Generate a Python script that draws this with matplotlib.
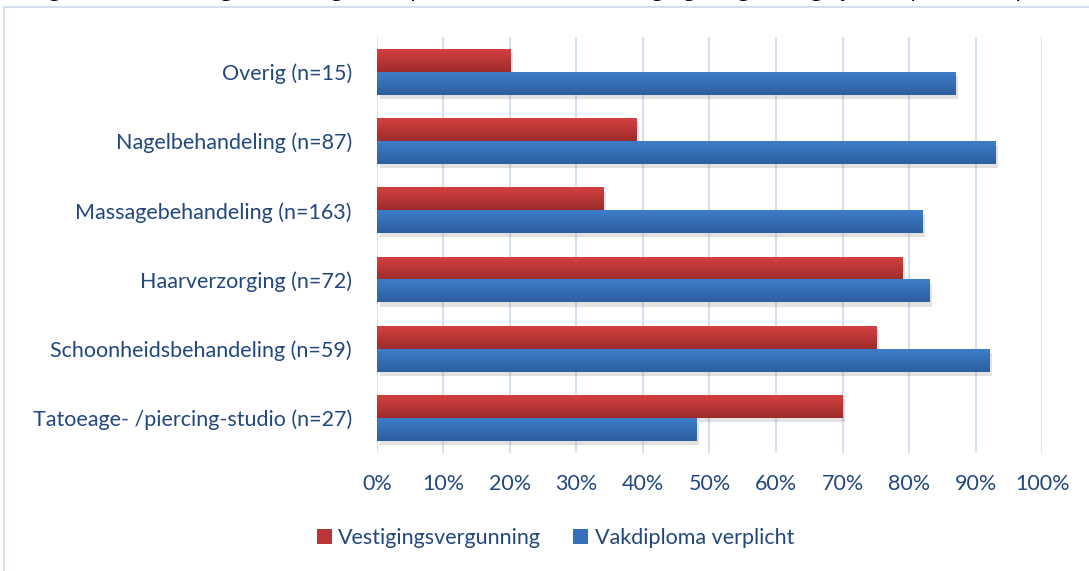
import matplotlib.pyplot as plt
import matplotlib.patheffects as pe
import numpy as np
from matplotlib.colors import LinearSegmentedColormap
from matplotlib.patches import Rectangle, Patch

# Data (top to bottom as shown)
categories = ['Overig (n=15)', 'Nagelbehandeling (n=87)', 'Massagebehandeling (n=163)',
              'Haarverzorging (n=72)', 'Schoonheidsbehandeling (n=59)',
              'Tatoeage- /piercing-studio (n=27)']
vestigingsvergunning = [0.20, 0.39, 0.34, 0.79, 0.75, 0.70]
vakdiploma = [0.87, 0.93, 0.82, 0.83, 0.92, 0.48]
series_names = ['Vestigingsvergunning', 'Vakdiploma verplicht']
xticks = np.arange(0, 1.01, 0.1)

text_col = '#22467E'
red_top, red_bot = '#D2413F', '#9E2B2B'
blue_top, blue_bot = '#3E7DCB', '#2D5F9E'

plt.rcParams['font.family'] = ['Lato', 'DejaVu Sans']

fig = plt.figure(figsize=(10.89, 5.71), dpi=100)
ax = fig.add_axes([0.346, 0.207, 0.611, 0.728])

# outer chart frame
fig.patches.append(Rectangle((0.004, -0.01), 1.2, 0.998, transform=fig.transFigure,
                             fill=False, edgecolor='#D5DFEE', linewidth=1.5))
# caption above the chart, cut off by the image edge as in the source
fig.text(0.03, 1.019, 'Figuur 3: Percentage aantal (geheel) per sector dat een vestigingsvergunning of vakdiploma verplicht acht',
         fontsize=17, style='italic', color='black', va='center', ha='left', family='Open Sans')

n = len(categories)
y = np.arange(n)[::-1]
h = 0.33
shadow = [pe.SimplePatchShadow(offset=(2, -3), alpha=0.14, shadow_rgbFace='#333333'), pe.Normal()]


def grad_bars(bars, top, bot):
    cmap = LinearSegmentedColormap.from_list('g', [bot, top])
    for b in bars:
        x0, y0, w, hh = b.get_x(), b.get_y(), b.get_width(), b.get_height()
        ax.imshow(np.linspace(1, 0, 50).reshape(-1, 1), cmap=cmap, aspect='auto',
                  extent=(x0, x0 + w, y0, y0 + hh), origin='upper', zorder=3)


b1 = ax.barh(y + h / 2, vestigingsvergunning, height=h, color=red_top, zorder=3, path_effects=shadow)
b2 = ax.barh(y - h / 2, vakdiploma, height=h, color=blue_top, zorder=3, path_effects=shadow)
grad_bars(b1, red_top, red_bot)
grad_bars(b2, blue_top, blue_bot)

ax.set_xlim(0, 1.0)
ax.set_ylim(-0.5, n - 0.5)
ax.set_xticks(xticks)
ax.set_xticklabels([f'{int(round(t * 100))}%' for t in xticks])
ax.set_yticks(y)
ax.set_yticklabels(categories)
ax.tick_params(axis='both', length=0, labelsize=15.5, labelcolor=text_col)
ax.tick_params(axis='y', pad=18)
ax.tick_params(axis='x', pad=15)
ax.xaxis.grid(True, color='#D6E1F0', linewidth=1.5, zorder=0)
ax.set_axisbelow(True)
for s in ax.spines.values():
    s.set_visible(False)

handles = [Patch(facecolor='#B93637'), Patch(facecolor='#3670BA')]
fig.legend(handles=handles, labels=series_names, loc='center', bbox_to_anchor=(0.51, 0.058),
           ncol=2, frameon=False, fontsize=15.5, labelcolor=text_col, handlelength=0.7,
           handleheight=0.7, handletextpad=0.3, columnspacing=1.5)

fig.savefig('out.png', dpi=100)
